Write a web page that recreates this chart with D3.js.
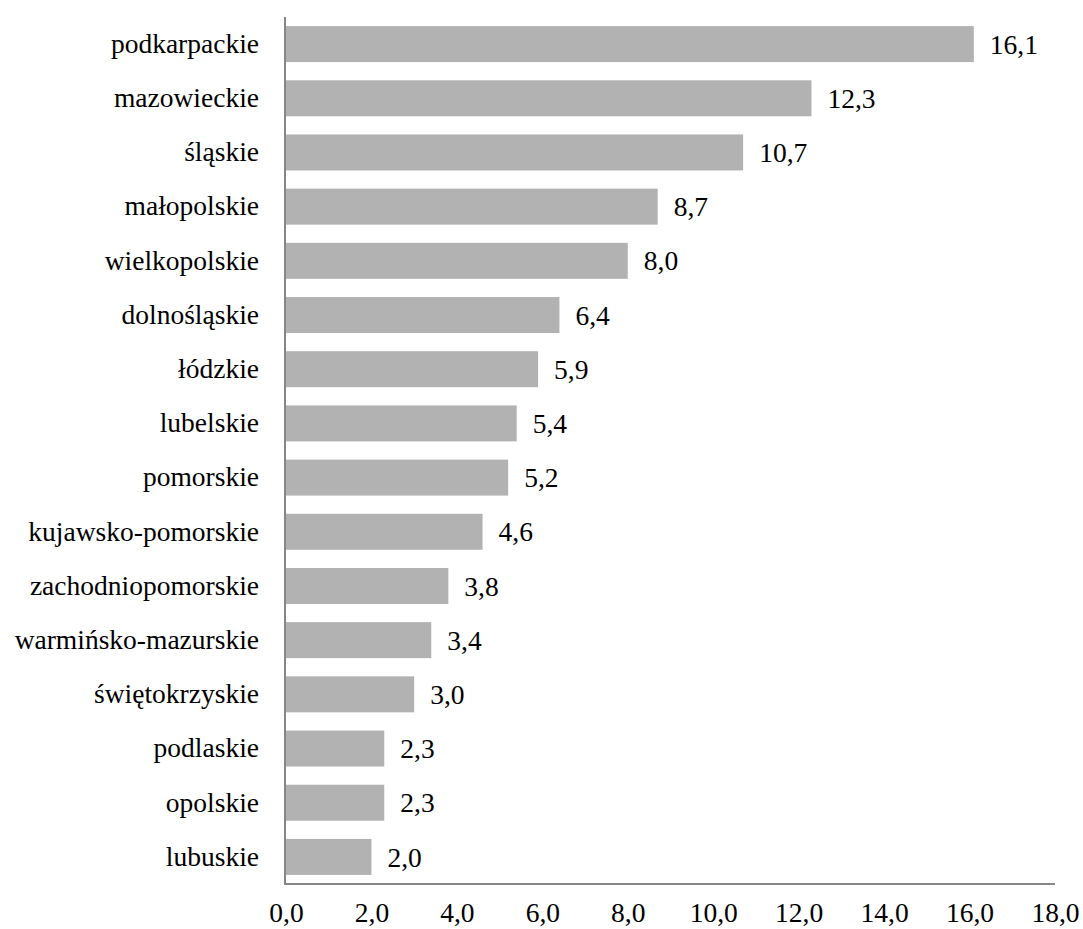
<!DOCTYPE html>
<html>
<head>
<meta charset="utf-8">
<script src="https://cdn.jsdelivr.net/npm/d3@7"></script>
<style>
  html, body { margin: 0; padding: 0; background: #fff; }
</style>
</head>
<body>
<svg id="chart" width="1083" height="929"></svg>
<script>
// Voivodeships and their values, top to bottom
const regions = [
  "podkarpackie", "mazowieckie", "śląskie", "małopolskie", "wielkopolskie",
  "dolnośląskie", "łódzkie", "lubelskie", "pomorskie", "kujawsko-pomorskie",
  "zachodniopomorskie", "warmińsko-mazurskie", "świętokrzyskie", "podlaskie",
  "opolskie", "lubuskie"
];
const values = [16.1, 12.3, 10.7, 8.7, 8.0, 6.4, 5.9, 5.4, 5.2, 4.6, 3.8, 3.4, 3.0, 2.3, 2.3, 2.0];
const xTicks = [0, 2, 4, 6, 8, 10, 12, 14, 16, 18];

const data = regions.map((r, i) => ({ region: r, value: values[i] }));

// Pick the first installed serif face (Times-like preferred)
function pickFont(candidates) {
  const ctx = document.createElement("canvas").getContext("2d");
  const sample = "podkarpackie 16,1 WwMm";
  const measure = f => { ctx.font = `40px ${f}`; return ctx.measureText(sample).width; };
  const base = ["monospace", "sans-serif"].map(measure);
  for (const name of candidates) {
    const w = ["monospace", "sans-serif"].map(b => measure(`"${name}", ${b}`));
    if (w[0] !== base[0] || w[1] !== base[1]) return `"${name}", serif`;
  }
  return "serif";
}
const labelFont = pickFont(["Liberation Serif", "Times New Roman", "Tinos", "Times", "Nimbus Roman", "DejaVu Serif", "Noto Serif"]);
const fontSize = 27.5;

const svg = d3.select("#chart");
const plotLeft = 286, plotRight = 1055, plotTop = 17, plotBottom = 884;

const fmt = v => d3.format(".1f")(v).replace(".", ",");

const x = d3.scaleLinear().domain([0, 18]).range([plotLeft, plotRight]);
const y = d3.scaleBand().domain(regions).range([plotTop, plotBottom])
  .paddingInner(0.336).paddingOuter(0.168);

const styleText = sel => sel
  .style("font-family", labelFont)
  .style("font-size", fontSize + "px")
  .attr("fill", "#000");

// Bars
svg.append("g").selectAll("rect").data(data).join("rect")
  .attr("x", x(0))
  .attr("y", d => y(d.region))
  .attr("width", d => x(d.value) - x(0))
  .attr("height", y.bandwidth())
  .attr("fill", "#b2b2b2");

// Value labels
svg.append("g").selectAll("text").data(data).join("text")
  .attr("x", d => x(d.value) + 16)
  .attr("y", d => y(d.region) + y.bandwidth() / 2)
  .attr("dy", "0.35em")
  .text(d => fmt(d.value))
  .call(styleText);

// Category axis
const yAxis = svg.append("g")
  .attr("transform", `translate(${plotLeft},0)`)
  .call(d3.axisLeft(y).tickSize(0).tickPadding(27));
yAxis.select(".domain").remove();
yAxis.selectAll("text").call(styleText);

// Value axis
const xAxis = svg.append("g")
  .attr("transform", `translate(0,${plotBottom})`)
  .call(d3.axisBottom(x).tickValues(xTicks).tickFormat(fmt).tickSize(0).tickPadding(18));
xAxis.select(".domain").remove();
xAxis.selectAll("text").call(styleText);

// Axis lines
svg.append("line")
  .attr("x1", plotLeft - 1).attr("x2", plotLeft - 1)
  .attr("y1", plotTop).attr("y2", plotBottom)
  .attr("stroke", "#868686").attr("stroke-width", 2);
svg.append("line")
  .attr("x1", plotLeft - 2).attr("x2", plotRight)
  .attr("y1", plotBottom).attr("y2", plotBottom)
  .attr("stroke", "#868686").attr("stroke-width", 2);
</script>
</body>
</html>
